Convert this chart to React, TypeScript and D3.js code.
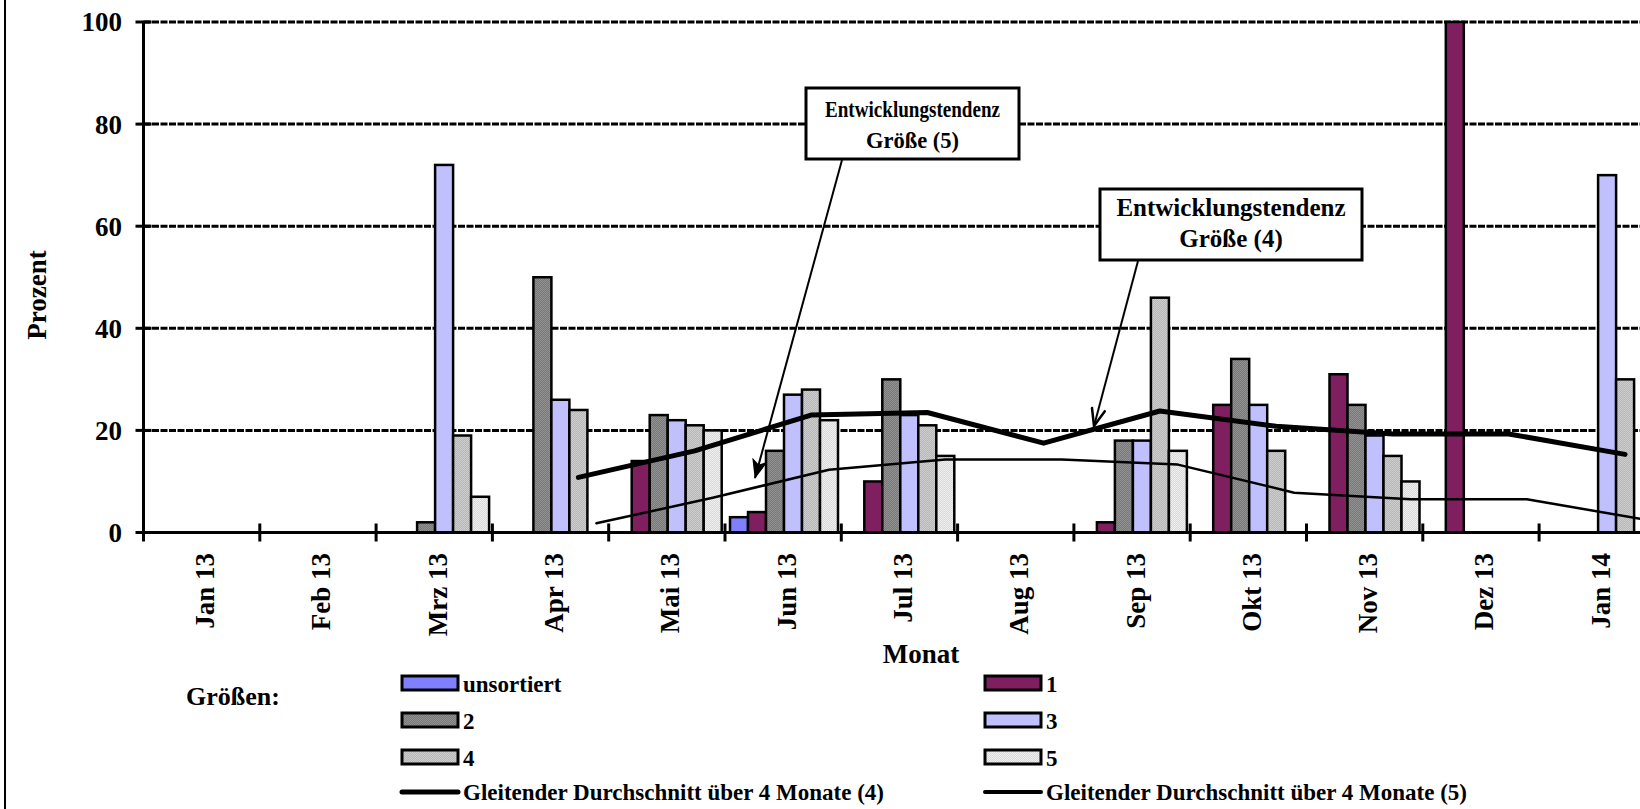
import * as d3 from "d3";

// Monate und Werte (Prozent) je Größe
const months = ["Jan 13", "Feb 13", "Mrz 13", "Apr 13", "Mai 13", "Jun 13", "Jul 13", "Aug 13", "Sep 13", "Okt 13", "Nov 13", "Dez 13", "Jan 14"];
const unsortiert = [null, null, null, null, null, 3, null, null, null, null, null, null, null];
const groesse1 = [null, null, null, null, 14, 4, 10, null, 2, 25, 31, 100, null];
const groesse2 = [null, null, 2, 50, 23, 16, 30, null, 18, 34, 25, null, null];
const groesse3 = [null, null, 72, 26, 22, 27, 23, null, 18, 25, 19, null, 70];
const groesse4 = [null, null, 19, 24, 21, 28, 21, null, 46, 16, 15, null, 30];
const groesse5 = [null, null, 7, null, 20, 22, 15, null, 16, null, 10, null, null];
// gleitender Durchschnitt über 4 Monate
const trend4 = [null, null, null, 10.8, 16, 23, 23.5, 17.5, 23.8, 20.8, 19.3, 19.3, 15.3];
const trend5 = [null, null, null, 1.8, 6.8, 12.3, 14.3, 14.3, 13.3, 7.8, 6.5, 6.5, 2.6];
const yTicks = [0, 20, 40, 60, 80, 100];

const FONT = "'Liberation Serif', 'Times New Roman', serif";

const series = [
  { key: "unsortiert", values: unsortiert, fill: "#8080FF" },
  { key: "1", values: groesse1, fill: "#7F1F5F" },
  { key: "2", values: groesse2, fill: "url(#pat2)" },
  { key: "3", values: groesse3, fill: "#C0C0FF" },
  { key: "4", values: groesse4, fill: "url(#pat4)" },
  { key: "5", values: groesse5, fill: "url(#pat5)" },
];

export default function App() {
  const x0 = 143.5;
  const step = 116.3;
  const x = d3.scaleBand<string>().domain(months).range([x0, x0 + step * months.length]).padding(0);
  const xs = d3.scaleBand<string>().domain(series.map((s) => s.key)).range([5, 113]).padding(0);
  const y = d3.scaleLinear().domain([0, 100]).range([532.5, 22]);

  const centerOf = (m: string, key: string) => x(m)! + xs(key)! + xs.bandwidth() / 2;
  const line4 = d3
    .line<number | null>()
    .defined((d) => d != null)
    .x((_, i) => centerOf(months[i], "4"))
    .y((d) => y(d as number));
  const line5 = d3
    .line<number | null>()
    .defined((d) => d != null)
    .x((_, i) => centerOf(months[i], "5"))
    .y((d) => y(d as number));

  const legendRows = [
    { col: 0, row: 0, label: "unsortiert", fill: "#8080FF" },
    { col: 1, row: 0, label: "1", fill: "#7F1F5F" },
    { col: 0, row: 1, label: "2", fill: "url(#pat2)" },
    { col: 1, row: 1, label: "3", fill: "#C0C0FF" },
    { col: 0, row: 2, label: "4", fill: "url(#pat4)" },
    { col: 1, row: 2, label: "5", fill: "url(#pat5)" },
  ];
  const legCols = [402, 985];
  const legRows = [683, 720, 757, 792];

  return (
    <svg
      width={1640}
      height={809}
      style={{ position: "absolute", left: 0, top: 0, background: "#fff" }}
      fontFamily={FONT}
      fontWeight="bold"
    >
      <defs>
        <pattern id="pat2" width="2" height="2" patternUnits="userSpaceOnUse">
          <rect width="2" height="2" fill="#787878" />
          <rect width="1" height="1" fill="#929292" />
          <rect x="1" y="1" width="1" height="1" fill="#929292" />
        </pattern>
        <pattern id="pat4" width="2" height="2" patternUnits="userSpaceOnUse">
          <rect width="2" height="2" fill="#b6b6b6" />
          <rect width="1" height="1" fill="#cecece" />
          <rect x="1" y="1" width="1" height="1" fill="#cecece" />
        </pattern>
        <pattern id="pat5" width="2" height="2" patternUnits="userSpaceOnUse">
          <rect width="2" height="2" fill="#d8d8d8" />
          <rect width="1" height="1" fill="#f0f0f0" />
          <rect x="1" y="1" width="1" height="1" fill="#f0f0f0" />
        </pattern>
        <marker id="arrFilled" viewBox="0 0 20 16" refX="19" refY="8" markerWidth="20" markerHeight="16" markerUnits="userSpaceOnUse" orient="auto">
          <path d="M0,0 L20,8 L0,16 L5,8 Z" fill="#000" />
        </marker>
        <marker id="arrOpen" viewBox="0 0 20 16" refX="19" refY="8" markerWidth="20" markerHeight="16" markerUnits="userSpaceOnUse" orient="auto">
          <path d="M1,1 L19,8 L1,15" fill="none" stroke="#000" strokeWidth="2.5" />
        </marker>
      </defs>

      {/* linker Rahmen */}
      <line x1={5} x2={5} y1={0} y2={809} stroke="#000" strokeWidth={2} />

      {/* Gitterlinien */}
      {yTicks.filter((t) => t > 0).map((t) => (
        <line key={t} x1={x0} x2={1640} y1={y(t)} y2={y(t)} stroke="#000" strokeWidth={3} strokeDasharray="7,1.5" />
      ))}

      {/* Balken */}
      {series.map((s) =>
        s.values.map((v, i) =>
          v == null ? null : (
            <rect
              key={s.key + i}
              x={x(months[i])! + xs(s.key)!}
              y={y(v)}
              width={xs.bandwidth()}
              height={y(0) - y(v)}
              fill={s.fill}
              stroke="#000"
              strokeWidth={2.5}
            />
          )
        )
      )}

      {/* Trendlinien */}
      <path d={line4(trend4) ?? ""} fill="none" stroke="#000" strokeWidth={5} strokeLinecap="round" strokeLinejoin="round" />
      <path d={line5(trend5) ?? ""} fill="none" stroke="#000" strokeWidth={2.5} strokeLinecap="round" strokeLinejoin="round" />

      {/* Achsen */}
      <line x1={x0} x2={x0} y1={y(100)} y2={y(0)} stroke="#000" strokeWidth={3} />
      <line x1={x0} x2={1640} y1={y(0)} y2={y(0)} stroke="#000" strokeWidth={3} />
      {yTicks.map((t) => (
        <g key={t}>
          <line x1={x0 - 8} x2={x0 + 8} y1={y(t)} y2={y(t)} stroke="#000" strokeWidth={3} />
          <text x={122} y={y(t)} dy="0.35em" textAnchor="end" fontSize={27}>
            {t}
          </text>
        </g>
      ))}
      {d3.range(months.length + 1).map((i) => (
        <line key={i} x1={x0 + i * step} x2={x0 + i * step} y1={y(0) - 9} y2={y(0) + 9} stroke="#000" strokeWidth={3} />
      ))}
      {months.map((m) => {
        const cx = x(m)! + x.bandwidth() / 2 + 3;
        return (
          <text key={m} transform={`translate(${cx},553) rotate(-90)`} textAnchor="end" dy="0.35em" fontSize={27}>
            {m}
          </text>
        );
      })}

      <text transform="translate(37,295) rotate(-90)" textAnchor="middle" dy="0.35em" fontSize={27}>
        Prozent
      </text>
      <text x={921} y={663} textAnchor="middle" fontSize={27}>
        Monat
      </text>

      {/* Legende */}
      <text x={186} y={705} fontSize={26}>
        Größen:
      </text>
      {legendRows.map((r) => (
        <g key={r.label}>
          <rect x={legCols[r.col]} y={legRows[r.row] - 7} width={56} height={14} fill={r.fill} stroke="#000" strokeWidth={3} />
          <text x={legCols[r.col] + 61} y={legRows[r.row] + 9} fontSize={23}>
            {r.label}
          </text>
        </g>
      ))}
      {["(4)", "(5)"].map((k, c) => (
        <g key={k}>
          <line x1={legCols[c]} x2={legCols[c] + 56} y1={legRows[3]} y2={legRows[3]} stroke="#000" strokeWidth={c === 0 ? 5 : 4} strokeLinecap="round" />
          <text x={legCols[c] + 61} y={legRows[3] + 8} fontSize={23}>
            {`Gleitender Durchschnitt über 4 Monate ${k}`}
          </text>
        </g>
      ))}

      {/* Beschriftungen */}
      <rect x={806} y={88} width={213} height={71} fill="#fff" stroke="#000" strokeWidth={3} />
      <text x={825} y={117} fontSize={24} textLength={175} lengthAdjust="spacingAndGlyphs">Entwicklungstendenz</text>
      <text x={866} y={148} fontSize={24} textLength={93} lengthAdjust="spacingAndGlyphs">Größe  (5)</text>
      <line x1={842} y1={160} x2={755} y2={478} stroke="#000" strokeWidth={2} markerEnd="url(#arrFilled)" />

      <rect x={1100} y={189} width={262} height={71} fill="#fff" stroke="#000" strokeWidth={3} />
      <text x={1231} y={216} textAnchor="middle" fontSize={25}>Entwicklungstendenz</text>
      <text x={1231} y={247} textAnchor="middle" fontSize={25}>Größe  (4)</text>
      <line x1={1138} y1={261} x2={1094} y2={426} stroke="#000" strokeWidth={2} markerEnd="url(#arrOpen)" />
    </svg>
  );
}
